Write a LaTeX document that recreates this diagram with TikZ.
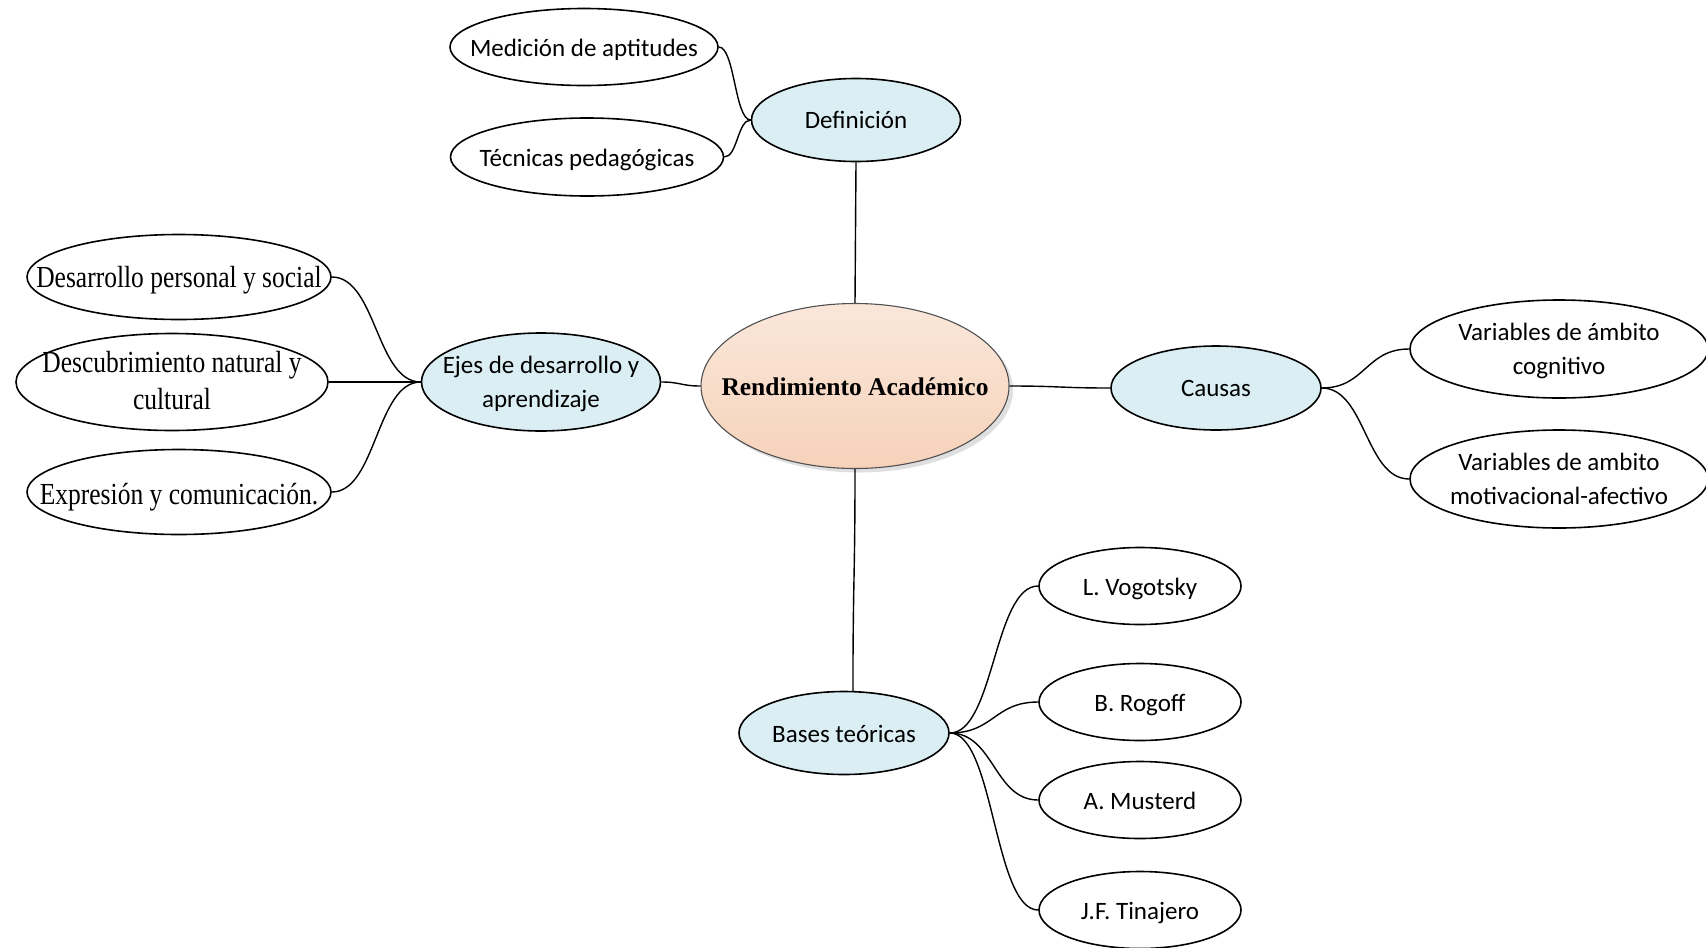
\documentclass[tikz,border=0pt]{standalone}
\usepackage{fontspec}
\usepackage{graphicx}
\setmainfont{Liberation Serif}
\newfontfamily\bodysans{Carlito}
\usetikzlibrary{shapes.geometric,shadows,calc}
\definecolor{topicblue}{HTML}{DAEEF3}
\definecolor{peachtop}{HTML}{FAE7DA}
\definecolor{peachbot}{HTML}{F6D2BA}
\definecolor{rimgray}{HTML}{505050}
% centred label whose box takes no height, lowered by the optional amount
\newcommand\bubbletext[2][8.5pt]{\raisebox{-#1}[0pt][0pt]{\begin{tabular}{@{}c@{}}#2\end{tabular}}}
% same, for the narrow, tall serif labels
\newcommand\tallserif[2][10pt]{\raisebox{-#1}[0pt][0pt]{\scalebox{1}[1.2]{\begin{tabular}{@{}c@{}}#2\end{tabular}}}}
\tikzset{
  % the outline size is set only by minimum width/height, never by the text
  oval/.style={ellipse, inner xsep=-300pt, inner ysep=-120pt},
  bubble/.style={oval, draw=black, line width=1.6pt,
    font=\bodysans\fontsize{25}{34}\selectfont},
  topic/.style={bubble, fill=topicblue},
  leaf/.style={bubble, fill=white},
  serifleaf/.style={leaf, font=\rmfamily\fontsize{25.5}{31}\selectfont},
  link/.style={line width=1.4pt},
  hcurve/.style={to path={let \p1=(\tikztostart), \p2=(\tikztotarget) in
    .. controls ({(\x1+\x2)/2},\y1) and ({(\x1+\x2)/2},\y2) .. (\tikztotarget) \tikztonodes}},
  vcurve/.style={to path={let \p1=(\tikztostart), \p2=(\tikztotarget) in
    .. controls (\x1,{(\y1+\y2)/2}) and (\x2,{(\y1+\y2)/2}) .. (\tikztotarget) \tikztonodes}},
}
\begin{document}
\begin{tikzpicture}[x=1pt,y=-1pt]
\clip (0,0) rectangle (1706,948);

% central concept
\node[oval, draw=rimgray, line width=1.1pt,
  minimum width=308pt, minimum height=165pt,
  top color=peachtop, bottom color=peachbot,
  drop shadow={shadow xshift=4pt, shadow yshift=-4pt, opacity=0.25},
  font=\rmfamily\bfseries\fontsize{25.5}{30}\selectfont] (ren) at (855,386) {\bubbletext[10pt]{Rendimiento Académico}};

% main branches
\node[topic, minimum width=209pt, minimum height=83pt] (def) at (856,120) {\bubbletext[7.5pt]{Definición}};
\node[topic, minimum width=239pt, minimum height=98pt] (ejes) at (541,382) {\bubbletext[7.5pt]{Ejes de desarrollo y\\aprendizaje}};
\node[topic, minimum width=210pt, minimum height=84pt] (cau) at (1216,388) {\bubbletext[7.5pt]{Causas}};
\node[topic, minimum width=210pt, minimum height=83pt] (bas) at (844,733) {\bubbletext{Bases teóricas}};

% Definición
\node[leaf, minimum width=268pt, minimum height=77pt] (med) at (584,47) {\bubbletext{Medición de aptitudes}};
\node[leaf, minimum width=273pt, minimum height=78pt] (tec) at (587,157) {\bubbletext{Técnicas pedagógicas}};

% Ejes
\node[serifleaf, minimum width=304pt, minimum height=85pt] (des) at (179,277) {\tallserif[11pt]{Desarrollo personal y social}};
\node[serifleaf, minimum width=312pt, minimum height=97pt] (dnc) at (172,382) {\tallserif[9pt]{Descubrimiento natural y\\cultural}};
\node[serifleaf, minimum width=304pt, minimum height=85pt] (exp) at (179,492) {\tallserif[13pt]{Expresión y comunicación.}};

% Causas
\node[leaf, minimum width=298pt, minimum height=98pt] (vcog) at (1559,349) {\bubbletext[7.5pt]{Variables de ámbito\\cognitivo}};
\node[leaf, minimum width=298pt, minimum height=98pt] (vmot) at (1559,479) {\bubbletext[7.5pt]{Variables de ambito\\motivacional-afectivo}};

% Bases teóricas
\node[leaf, minimum width=202pt, minimum height=77pt] (vog) at (1140,586) {\bubbletext{L. Vogotsky}};
\node[leaf, minimum width=202pt, minimum height=77pt] (rog) at (1140,702) {\bubbletext{B. Rogoff}};
\node[leaf, minimum width=202pt, minimum height=77pt] (mus) at (1140,800) {\bubbletext{A. Musterd}};
\node[leaf, minimum width=202pt, minimum height=77pt] (tin) at (1140,910) {\bubbletext{J.F. Tinajero}};

% connectors
\draw[link] (def.south) to[vcurve] (ren.north);
\draw[link] (ren.south) to[vcurve] (bas.78);
\draw[link] (ejes.east) to[hcurve] (ren.west);
\draw[link] (ren.east) to[hcurve] (cau.west);

\draw[link] (med.east) to[hcurve] (def.west);
\draw[link] (tec.east) to[hcurve] (def.west);

\draw[link] (des.east) to[hcurve] (ejes.west);
\draw[link] (dnc.east) to[hcurve] (ejes.west);
\draw[link] (exp.east) to[hcurve] (ejes.west);

\draw[link] (cau.east) to[hcurve] (vcog.west);
\draw[link] (cau.east) to[hcurve] (vmot.west);

\draw[link] (bas.east) to[hcurve] (vog.west);
\draw[link] (bas.east) to[hcurve] (rog.west);
\draw[link] (bas.east) to[hcurve] (mus.west);
\draw[link] (bas.east) to[hcurve] (tin.west);
\end{tikzpicture}
\end{document}
